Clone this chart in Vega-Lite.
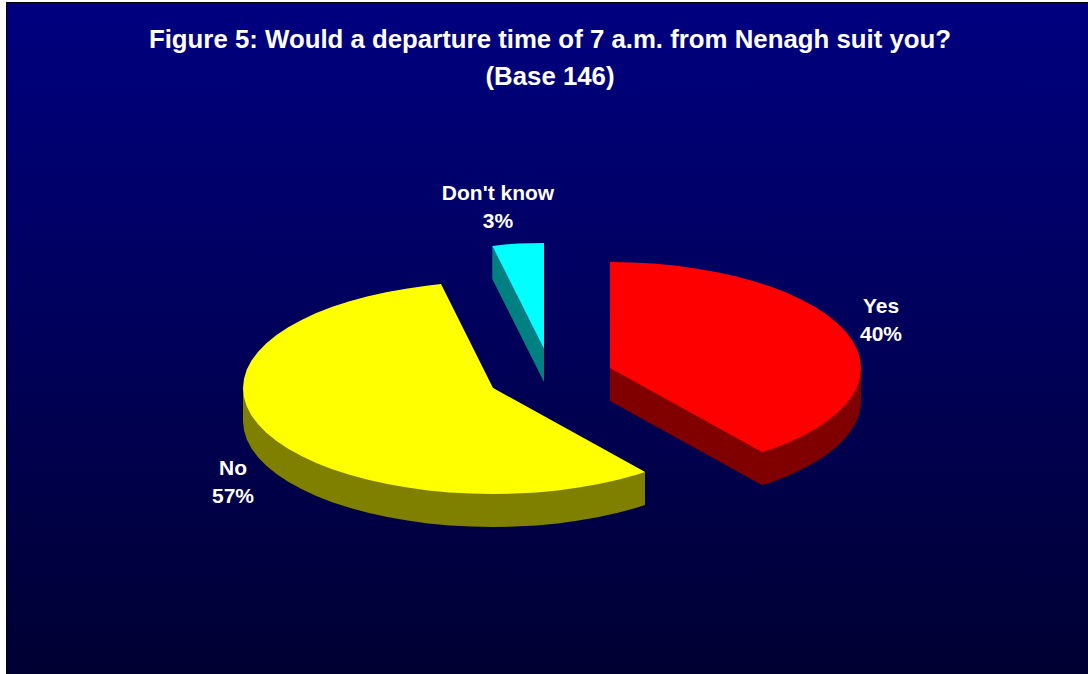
{"$schema":"https://vega.github.io/schema/vega-lite/v6.json","width":1088,"height":674,"padding":0,"autosize":{"type":"fit","contains":"padding"},"background":"white","view":{"stroke":null},
"datasets":{
"frame":[{"x0":6,"x1":1088,"y0":2,"y1":674}],
"panel":[{"x0":7,"x1":1088,"y0":3,"y1":674}],
"titles":[{"line":"Figure 5: Would a departure time of 7 a.m. from Nenagh suit you?","x":550,"y":40},{"line":"(Base 146)","x":550,"y":77}],
"slices":[{"label":"Yes","share":0.40,"x":881,"y":321},{"label":"No","share":0.57,"x":233,"y":483},{"label":"Don't know","share":0.03,"x":498,"y":208}],
"outlines":[
{"p":"a","f":"Yes side","o":1,"x":610,"y":368},{"p":"a","f":"Yes side","o":2,"x":861,"y":368},{"p":"a","f":"Yes side","o":3,"x":861,"y":401},{"p":"a","f":"Yes side","o":4,"x":860,"y":410.2},{"p":"a","f":"Yes side","o":5,"x":857.2,"y":419.4},{"p":"a","f":"Yes side","o":6,"x":852.4,"y":428.4},{"p":"a","f":"Yes side","o":7,"x":845.9,"y":437.3},{"p":"a","f":"Yes side","o":8,"x":837.5,"y":445.8},{"p":"a","f":"Yes side","o":9,"x":827.4,"y":454},{"p":"a","f":"Yes side","o":10,"x":815.6,"y":461.8},{"p":"a","f":"Yes side","o":11,"x":802.3,"y":469.1},{"p":"a","f":"Yes side","o":12,"x":787.5,"y":476},{"p":"a","f":"Yes side","o":13,"x":771.3,"y":482.2},{"p":"a","f":"Yes side","o":14,"x":762,"y":485},{"p":"a","f":"Yes side","o":15,"x":610,"y":401},
{"p":"b","f":"Yes","o":1,"x":610,"y":368},{"p":"b","f":"Yes","o":2,"x":610,"y":262},{"p":"b","f":"Yes","o":3,"x":631.9,"y":262.4},{"p":"b","f":"Yes","o":4,"x":653.6,"y":263.6},{"p":"b","f":"Yes","o":5,"x":675,"y":265.6},{"p":"b","f":"Yes","o":6,"x":695.8,"y":268.4},{"p":"b","f":"Yes","o":7,"x":716.1,"y":271.9},{"p":"b","f":"Yes","o":8,"x":735.5,"y":276.2},{"p":"b","f":"Yes","o":9,"x":754,"y":281.2},{"p":"b","f":"Yes","o":10,"x":771.3,"y":286.8},{"p":"b","f":"Yes","o":11,"x":787.5,"y":293},{"p":"b","f":"Yes","o":12,"x":802.3,"y":299.9},{"p":"b","f":"Yes","o":13,"x":815.6,"y":307.2},{"p":"b","f":"Yes","o":14,"x":827.4,"y":315},{"p":"b","f":"Yes","o":15,"x":837.5,"y":323.2},{"p":"b","f":"Yes","o":16,"x":845.9,"y":331.7},{"p":"b","f":"Yes","o":17,"x":852.4,"y":340.6},{"p":"b","f":"Yes","o":18,"x":857.2,"y":349.6},{"p":"b","f":"Yes","o":19,"x":860,"y":358.8},{"p":"b","f":"Yes","o":20,"x":861,"y":368},{"p":"b","f":"Yes","o":21,"x":860,"y":377.2},{"p":"b","f":"Yes","o":22,"x":857.2,"y":386.4},{"p":"b","f":"Yes","o":23,"x":852.4,"y":395.4},{"p":"b","f":"Yes","o":24,"x":845.9,"y":404.3},{"p":"b","f":"Yes","o":25,"x":837.5,"y":412.8},{"p":"b","f":"Yes","o":26,"x":827.4,"y":421},{"p":"b","f":"Yes","o":27,"x":815.6,"y":428.8},{"p":"b","f":"Yes","o":28,"x":802.3,"y":436.1},{"p":"b","f":"Yes","o":29,"x":787.5,"y":443},{"p":"b","f":"Yes","o":30,"x":771.3,"y":449.2},{"p":"b","f":"Yes","o":31,"x":762,"y":452},
{"p":"c","f":"No side","o":1,"x":243,"y":388},{"p":"c","f":"No side","o":2,"x":243,"y":421},{"p":"c","f":"No side","o":3,"x":244,"y":430.2},{"p":"c","f":"No side","o":4,"x":246.8,"y":439.4},{"p":"c","f":"No side","o":5,"x":251.5,"y":448.4},{"p":"c","f":"No side","o":6,"x":258.1,"y":457.3},{"p":"c","f":"No side","o":7,"x":266.4,"y":465.8},{"p":"c","f":"No side","o":8,"x":276.5,"y":474},{"p":"c","f":"No side","o":9,"x":288.2,"y":481.8},{"p":"c","f":"No side","o":10,"x":301.5,"y":489.1},{"p":"c","f":"No side","o":11,"x":316.2,"y":496},{"p":"c","f":"No side","o":12,"x":332.3,"y":502.2},{"p":"c","f":"No side","o":13,"x":349.6,"y":507.8},{"p":"c","f":"No side","o":14,"x":368,"y":512.8},{"p":"c","f":"No side","o":15,"x":387.3,"y":517.1},{"p":"c","f":"No side","o":16,"x":407.5,"y":520.6},{"p":"c","f":"No side","o":17,"x":428.3,"y":523.4},{"p":"c","f":"No side","o":18,"x":449.6,"y":525.4},{"p":"c","f":"No side","o":19,"x":471.2,"y":526.6},{"p":"c","f":"No side","o":20,"x":493,"y":527},{"p":"c","f":"No side","o":21,"x":514.8,"y":526.6},{"p":"c","f":"No side","o":22,"x":536.4,"y":525.4},{"p":"c","f":"No side","o":23,"x":557.7,"y":523.4},{"p":"c","f":"No side","o":24,"x":578.5,"y":520.6},{"p":"c","f":"No side","o":25,"x":598.7,"y":517.1},{"p":"c","f":"No side","o":26,"x":618,"y":512.8},{"p":"c","f":"No side","o":27,"x":636.4,"y":507.8},{"p":"c","f":"No side","o":28,"x":645,"y":505},{"p":"c","f":"No side","o":29,"x":645,"y":472},{"p":"c","f":"No side","o":30,"x":493,"y":388},
{"p":"d","f":"No","o":1,"x":493,"y":388},{"p":"d","f":"No","o":2,"x":645,"y":472},{"p":"d","f":"No","o":3,"x":636.4,"y":474.8},{"p":"d","f":"No","o":4,"x":618,"y":479.8},{"p":"d","f":"No","o":5,"x":598.7,"y":484.1},{"p":"d","f":"No","o":6,"x":578.5,"y":487.6},{"p":"d","f":"No","o":7,"x":557.7,"y":490.4},{"p":"d","f":"No","o":8,"x":536.4,"y":492.4},{"p":"d","f":"No","o":9,"x":514.8,"y":493.6},{"p":"d","f":"No","o":10,"x":493,"y":494},{"p":"d","f":"No","o":11,"x":471.2,"y":493.6},{"p":"d","f":"No","o":12,"x":449.6,"y":492.4},{"p":"d","f":"No","o":13,"x":428.3,"y":490.4},{"p":"d","f":"No","o":14,"x":407.5,"y":487.6},{"p":"d","f":"No","o":15,"x":387.3,"y":484.1},{"p":"d","f":"No","o":16,"x":368,"y":479.8},{"p":"d","f":"No","o":17,"x":349.6,"y":474.8},{"p":"d","f":"No","o":18,"x":332.3,"y":469.2},{"p":"d","f":"No","o":19,"x":316.2,"y":463},{"p":"d","f":"No","o":20,"x":301.5,"y":456.1},{"p":"d","f":"No","o":21,"x":288.2,"y":448.8},{"p":"d","f":"No","o":22,"x":276.5,"y":441},{"p":"d","f":"No","o":23,"x":266.4,"y":432.8},{"p":"d","f":"No","o":24,"x":258.1,"y":424.3},{"p":"d","f":"No","o":25,"x":251.5,"y":415.4},{"p":"d","f":"No","o":26,"x":246.8,"y":406.4},{"p":"d","f":"No","o":27,"x":244,"y":397.2},{"p":"d","f":"No","o":28,"x":243,"y":388},{"p":"d","f":"No","o":29,"x":244,"y":378.8},{"p":"d","f":"No","o":30,"x":246.8,"y":369.6},{"p":"d","f":"No","o":31,"x":251.5,"y":360.6},{"p":"d","f":"No","o":32,"x":258.1,"y":351.7},{"p":"d","f":"No","o":33,"x":266.4,"y":343.2},{"p":"d","f":"No","o":34,"x":276.5,"y":335},{"p":"d","f":"No","o":35,"x":288.2,"y":327.2},{"p":"d","f":"No","o":36,"x":301.5,"y":319.9},{"p":"d","f":"No","o":37,"x":316.2,"y":313},{"p":"d","f":"No","o":38,"x":332.3,"y":306.8},{"p":"d","f":"No","o":39,"x":349.6,"y":301.2},{"p":"d","f":"No","o":40,"x":368,"y":296.2},{"p":"d","f":"No","o":41,"x":387.3,"y":291.9},{"p":"d","f":"No","o":42,"x":407.5,"y":288.4},{"p":"d","f":"No","o":43,"x":428.3,"y":285.6},{"p":"d","f":"No","o":44,"x":441,"y":284},
{"p":"e","f":"Don't know side","o":1,"x":492.3,"y":246},{"p":"e","f":"Don't know side","o":2,"x":492.3,"y":279},{"p":"e","f":"Don't know side","o":3,"x":544,"y":382},{"p":"e","f":"Don't know side","o":4,"x":544,"y":349},
{"p":"f","f":"Don't know","o":1,"x":544,"y":349},{"p":"f","f":"Don't know","o":2,"x":492.3,"y":246},{"p":"f","f":"Don't know","o":3,"x":505,"y":244.4},{"p":"f","f":"Don't know","o":4,"x":518,"y":243.6},{"p":"f","f":"Don't know","o":5,"x":531,"y":243.2},{"p":"f","f":"Don't know","o":6,"x":544,"y":243}
]},
"layer":[
{"data":{"name":"frame"},"mark":{"type":"rect","fill":"#000000"},
"encoding":{"x":{"field":"x0","type":"quantitative","scale":{"domain":[0,1088],"nice":false,"zero":false},"axis":null},"x2":{"field":"x1"},"y":{"field":"y0","type":"quantitative","scale":{"domain":[674,0],"nice":false,"zero":false},"axis":null},"y2":{"field":"y1"}}},
{"data":{"name":"panel"},"mark":{"type":"rect","fill":{"gradient":"linear","x1":0,"y1":0,"x2":0,"y2":1,"stops":[{"offset":0,"color":"#000080"},{"offset":1,"color":"#000033"}]}},
"encoding":{"x":{"field":"x0","type":"quantitative"},"x2":{"field":"x1"},"y":{"field":"y0","type":"quantitative"},"y2":{"field":"y1"}}},
{"data":{"name":"outlines"},"mark":{"type":"line","filled":true,"strokeWidth":0,"clip":false},
"encoding":{"x":{"field":"x","type":"quantitative"},"y":{"field":"y","type":"quantitative"},"order":{"field":"o","type":"quantitative"},"detail":{"field":"p"},
"color":{"field":"f","type":"nominal","legend":null,"scale":{"domain":["Yes side","Yes","No side","No","Don't know side","Don't know"],"range":["#800000","#ff0000","#808000","#ffff00","#008080","#00ffff"]}}}},
{"data":{"name":"titles"},"mark":{"type":"text","font":"Liberation Sans","fontWeight":"bold","fontSize":25.8,"color":"#ffffff","align":"center","baseline":"middle"},
"encoding":{"x":{"field":"x","type":"quantitative"},"y":{"field":"y","type":"quantitative"},"text":{"field":"line"}}},
{"data":{"name":"slices"},"mark":{"type":"text","font":"Liberation Sans","fontWeight":"bold","fontSize":21,"color":"#ffffff","align":"center","baseline":"middle","dy":-14},
"encoding":{"x":{"field":"x","type":"quantitative"},"y":{"field":"y","type":"quantitative"},"text":{"field":"label"}}},
{"data":{"name":"slices"},"mark":{"type":"text","font":"Liberation Sans","fontWeight":"bold","fontSize":21,"color":"#ffffff","align":"center","baseline":"middle","dy":14},
"encoding":{"x":{"field":"x","type":"quantitative"},"y":{"field":"y","type":"quantitative"},"text":{"field":"share","type":"quantitative","format":".0%"}}}
]}
